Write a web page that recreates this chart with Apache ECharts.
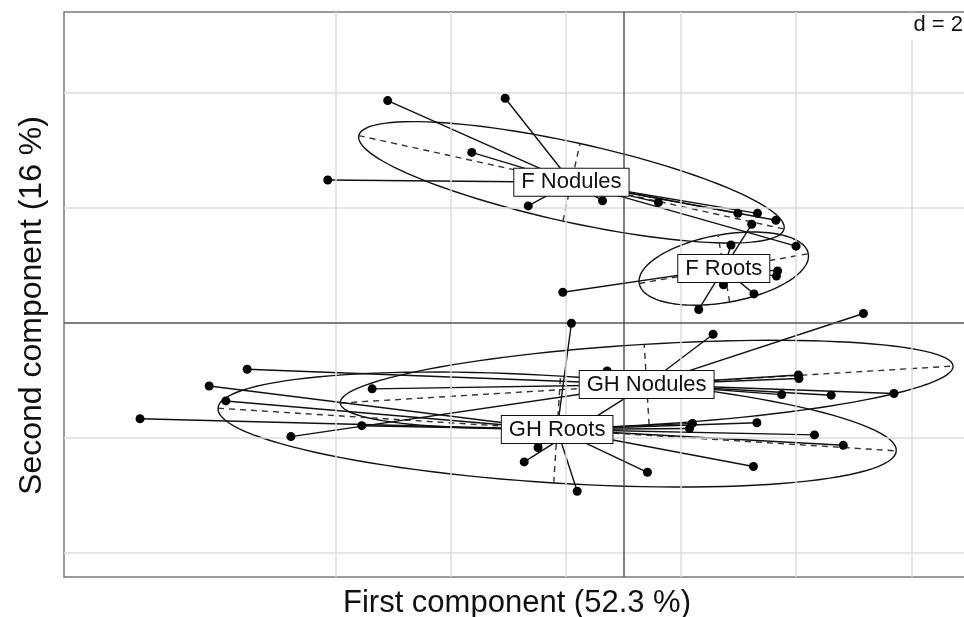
<!DOCTYPE html>
<html><head><meta charset="utf-8">
<script src="https://cdn.jsdelivr.net/npm/echarts@6/dist/echarts.min.js"></script>
<style>html,body{margin:0;padding:0;background:#fff}#c{width:964px;height:617px}</style>
</head><body><div id="c"></div>
<script>
// ---- data (ade4 s.class style plot) ----
const classNames = ['F Nodules', 'F Roots', 'GH Nodules', 'GH Roots'];
const fNodules = [[-4.09,3.86],[-2.05,3.90],[-2.63,2.96],[-5.13,2.48],[-1.65,2.03],[-0.36,2.12],[0.61,2.09],[1.99,1.90],[2.33,1.90],[2.65,1.78],[3.00,1.33]];
const fRoots = [[2.23,1.71],[1.87,1.35],[2.68,0.90],[2.66,0.81],[1.74,0.66],[2.27,0.50],[1.31,0.23],[-1.05,0.53]];
const ghNodules = [[-6.53,-0.81],[-4.36,-1.15],[-5.77,-1.98],[-0.28,-0.84],[1.56,-0.20],[4.17,0.16],[3.04,-0.91],[3.05,-0.97],[2.75,-1.25],[3.61,-1.26],[4.70,-1.23],[-1.72,-2.42]];
const ghRoots = [[-7.19,-1.10],[-6.90,-1.36],[-8.39,-1.67],[-4.54,-1.79],[-0.90,-0.01],[-0.80,-2.93],[-1.48,-2.17],[0.42,-2.60],[2.26,-2.50],[1.20,-1.75],[1.15,-1.84],[2.32,-1.74],[3.32,-1.95],[3.82,-2.13]];
const centroids = [[-0.90,2.44],[1.745,0.94],[0.406,-1.075],[-1.148,-1.857]];
const ellipseA = [3.78, 1.49, 5.33, 5.90];
const ellipseB = [0.69, 0.59, 0.70, 0.93];
const ellipseAngleDeg = [-12.4, 10.0, 3.45, -3.6];
const gridX = [-5, -3, -1, 1, 3, 5];
const gridY = [-4, -2, 2, 4];
const xTitle = 'First component (52.3 %)';
const yTitle = 'Second component (16 %)';
const scaleLabel = 'd = 2';

const groups = [fNodules, fRoots, ghNodules, ghRoots];
const FONT = "'Liberation Sans', Arial, Helvetica, sans-serif";

const spokeData = [];
groups.forEach((pts, g) => pts.forEach(p => spokeData.push([p[0], p[1], centroids[g][0], centroids[g][1]])));
const pointData = [];
groups.forEach(pts => pts.forEach(p => pointData.push(p)));

const chart = echarts.init(document.getElementById('c'), null, {renderer: 'canvas'});
const option = {
  animation: false,
  backgroundColor: '#fff',
  grid: {left: 64, top: 12, right: -6, bottom: 40, outerBoundsMode: 'none', containLabel: false,
         show: true, borderColor: '#7a7a7a', borderWidth: 1.5, backgroundColor: '#fff'},
  xAxis: {
    type: 'value', min: -9.71, max: 6.02,
    axisLine: {show: false}, axisTick: {show: false}, axisLabel: {show: false}, splitLine: {show: false},
    name: xTitle, nameLocation: 'middle', nameGap: 11,
    nameTextStyle: {fontFamily: FONT, fontSize: 31, color: '#111', verticalAlign: 'top'}
  },
  yAxis: {
    type: 'value', min: -4.42, max: 5.40,
    axisLine: {show: false}, axisTick: {show: false}, axisLabel: {show: false}, splitLine: {show: false},
    name: yTitle, nameLocation: 'middle', nameGap: 16,
    nameTextStyle: {fontFamily: FONT, fontSize: 32, color: '#111', verticalAlign: 'bottom', padding: [0, 22, 0, 0]}
  },
  graphic: [
    {type: 'rect', right: 0, top: 13, z: 100, shape: {width: 58, height: 27}, style: {fill: '#fff'}},
    {type: 'text', right: 1, top: 14, z: 101, style: {text: scaleLabel, font: '22px ' + FONT, fill: '#111'}}
  ],
  series: [
    { // grid lines
      type: 'scatter', data: [], silent: true, z: 1,
      markLine: {
        silent: true, symbol: ['none', 'none'], label: {show: false}, animation: false,
        lineStyle: {color: '#dcdcdc', width: 1.5, type: 'solid'},
        data: gridX.map(v => ({xAxis: v})).concat(gridY.map(v => ({yAxis: v})))
      }
    },
    { // origin axes
      type: 'scatter', data: [], silent: true, z: 2,
      markLine: {
        silent: true, symbol: ['none', 'none'], label: {show: false}, animation: false,
        lineStyle: {color: '#555', width: 1.5, type: 'solid'},
        data: [{xAxis: 0}, {yAxis: 0}]
      }
    },
    { // ellipses + their axes
      type: 'custom', z: 3, silent: true,
      data: centroids.map((c, i) => [c[0], c[1], ellipseA[i], ellipseB[i], ellipseAngleDeg[i]]),
      renderItem: function (params, api) {
        const cx = api.value(0), cy = api.value(1), a = api.value(2), b = api.value(3);
        const th = api.value(4) * Math.PI / 180;
        const ct = Math.cos(th), st = Math.sin(th);
        const pts = [];
        for (let k = 0; k <= 120; k++) {
          const t = 2 * Math.PI * k / 120;
          const x = cx + a * Math.cos(t) * ct - b * Math.sin(t) * st;
          const y = cy + a * Math.cos(t) * st + b * Math.sin(t) * ct;
          pts.push(api.coord([x, y]));
        }
        const m1 = api.coord([cx - a * ct, cy - a * st]), m2 = api.coord([cx + a * ct, cy + a * st]);
        const n1 = api.coord([cx + b * st, cy - b * ct]), n2 = api.coord([cx - b * st, cy + b * ct]);
        const dash = {stroke: '#333', lineWidth: 1.4, lineDash: [6, 5]};
        return {type: 'group', children: [
          {type: 'polyline', shape: {points: pts}, style: {stroke: '#111', lineWidth: 1.4, fill: null}},
          {type: 'line', shape: {x1: m1[0], y1: m1[1], x2: m2[0], y2: m2[1]}, style: dash},
          {type: 'line', shape: {x1: n1[0], y1: n1[1], x2: n2[0], y2: n2[1]}, style: dash}
        ]};
      }
    },
    { // spokes
      type: 'custom', z: 4, silent: true,
      data: spokeData,
      renderItem: function (params, api) {
        const p = api.coord([api.value(0), api.value(1)]);
        const c = api.coord([api.value(2), api.value(3)]);
        return {type: 'line', shape: {x1: p[0], y1: p[1], x2: c[0], y2: c[1]}, style: {stroke: '#111', lineWidth: 1.4}};
      }
    },
    { // points
      type: 'scatter', z: 5, silent: true, symbol: 'circle', symbolSize: 9,
      itemStyle: {color: '#000', opacity: 1}, data: pointData
    },
    { // class labels
      type: 'custom', z: 6, silent: true,
      data: centroids.map((c, i) => [c[0], c[1], i]),
      renderItem: function (params, api) {
        const p = api.coord([api.value(0), api.value(1)]);
        return {type: 'text', x: p[0], y: p[1], z2: 10, style: {
          text: classNames[api.value(2)], font: '22px ' + FONT, fill: '#111',
          align: 'center', verticalAlign: 'middle',
          backgroundColor: '#fff', borderColor: '#111', borderWidth: 1, padding: [3, 7, 2, 7]
        }};
      }
    }
  ]
};
chart.setOption(option);
</script>
</body></html>
